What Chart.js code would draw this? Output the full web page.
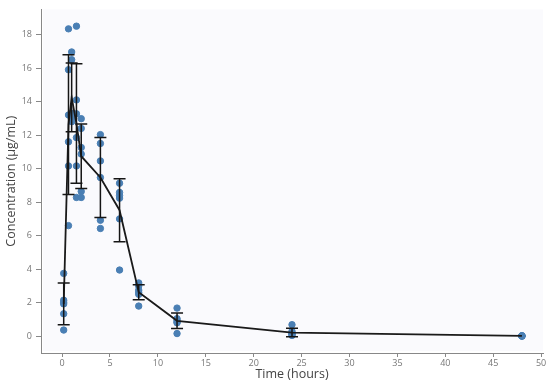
<!DOCTYPE html>
<html>
<head>
<meta charset="utf-8">
<script src="https://cdn.jsdelivr.net/npm/chart.js@4"></script>
<style>
  html, body { margin: 0; padding: 0; background: #fff; }
</style>
</head>
<body>
<canvas id="myChart" width="550" height="386"></canvas>
<script>
// sampling times (hours)
const sampleTimes = [0.17, 0.67, 1, 1.5, 2, 4, 6, 8, 12, 24, 48]

// individual concentrations (µg/mL) per sampling time
const conc_0h17 = [3.75, 2.15, 2.03, 1.93, 1.34, 0.37]
const conc_0h67 = [18.34, 15.9, 13.2, 11.6, 10.16, 6.6]
const conc_1h = [16.96, 16.5, 13.3, 13.0, 12.9, 12.8]
const conc_1h5 = [18.5, 14.1, 13.27, 11.85, 10.16, 8.28]
const conc_2h = [12.98, 12.4, 11.26, 10.87, 8.64, 8.28]
const conc_4h = [12.03, 11.5, 10.46, 9.47, 6.92, 6.43]
const conc_6h = [9.13, 8.58, 8.4, 8.24, 7.0, 3.95]
const conc_8h = [3.18, 3.0, 2.75, 2.62, 2.5, 1.8]
const conc_12h = [1.68, 1.05, 0.95, 0.85, 0.8, 0.16]
const conc_24h = [0.69, 0.3, 0.2, 0.15, 0.1, 0.05]
const conc_48h = [0.03, 0.02, 0.02, 0.01, 0.01, 0.01]
const allConc = [conc_0h17, conc_0h67, conc_1h, conc_1h5, conc_2h, conc_4h, conc_6h, conc_8h, conc_12h, conc_24h, conc_48h]

// mean and SD per sampling time
const meanConc = [1.93, 12.63, 14.25, 12.69, 10.74, 9.47, 7.52, 2.62, 0.92, 0.22, 0.02]
const sdConc = [1.25, 4.17, 2.05, 3.56, 1.93, 2.38, 1.88, 0.45, 0.46, 0.25, 0]

const xTicks = [0, 5, 10, 15, 20, 25, 30, 35, 40, 45, 50]
const yTicks = [0, 2, 4, 6, 8, 10, 12, 14, 16, 18]

const scatterPts = []
allConc.forEach((list, i) => {
  list.forEach(v => scatterPts.push({ x: sampleTimes[i], y: v }))
})
const meanPts = sampleTimes.map((t, i) => ({ x: t, y: meanConc[i] }))

const plotBg = {
  id: 'plotBg',
  beforeDraw(chart) {
    const { ctx, chartArea: a } = chart
    ctx.save()
    ctx.fillStyle = '#fafafd'
    ctx.fillRect(a.left + 2, a.top, a.right - a.left - 2, a.bottom - a.top - 2)
    ctx.restore()
  }
}

const errorBars = {
  id: 'errorBars',
  afterDatasetsDraw(chart) {
    const ctx = chart.ctx
    const xs = chart.scales.x
    const ys = chart.scales.y
    ctx.save()
    ctx.strokeStyle = '#151515'
    ctx.lineWidth = 1.5
    sampleTimes.forEach((t, i) => {
      if (!sdConc[i]) return
      const px = xs.getPixelForValue(t)
      const top = ys.getPixelForValue(meanConc[i] + sdConc[i])
      const bot = ys.getPixelForValue(meanConc[i] - sdConc[i])
      ctx.beginPath()
      ctx.moveTo(px, top); ctx.lineTo(px, bot)
      ctx.moveTo(px - 6, top); ctx.lineTo(px + 6, top)
      ctx.moveTo(px - 6, bot); ctx.lineTo(px + 6, bot)
      ctx.stroke()
    })
    ctx.restore()
  }
}

const tickFont = { family: 'Open Sans', size: 9 }
const titleFont = { family: 'Open Sans', size: 12.5 }

new Chart(document.getElementById('myChart'), {
  type: 'scatter',
  data: {
    datasets: [
      {
        // mean profile
        type: 'line',
        data: meanPts,
        borderColor: '#1a1a1a',
        borderWidth: 1.8,
        pointRadius: 0,
        fill: false,
        tension: 0,
        order: 0
      },
      {
        data: scatterPts,
        backgroundColor: '#4a7fb4',
        borderColor: '#4a7fb4',
        pointRadius: 3.2,
        order: 1
      }
    ]
  },
  options: {
    responsive: false,
    animation: false,
    layout: { padding: { top: 6, right: 7, left: 0, bottom: 0 } },
    plugins: {
      legend: { display: false },
      tooltip: { enabled: false }
    },
    scales: {
      x: {
        type: 'linear',
        min: -2.2,
        max: 50.2,
        afterBuildTicks: s => { s.ticks = xTicks.map(v => ({ value: v })) },
        afterFit: s => { s.height = 33 },
        ticks: { color: '#777', font: tickFont, padding: 1, maxRotation: 0 },
        grid: { drawOnChartArea: false, tickLength: 4, color: '#888' },
        border: { color: '#888' },
        title: { display: true, text: 'Time (hours)', color: '#444', font: titleFont, padding: { top: 0, bottom: 4 } }
      },
      y: {
        min: -1,
        max: 19.5,
        afterBuildTicks: s => { s.ticks = yTicks.map(v => ({ value: v })) },
        afterFit: s => { s.width = 41 },
        ticks: { color: '#777', font: tickFont, padding: 4 },
        grid: { drawOnChartArea: false, tickLength: 5, color: '#888' },
        border: { color: '#888' },
        title: { display: true, text: 'Concentration (µg/mL)', color: '#444', font: titleFont, padding: 4 }
      }
    }
  },
  plugins: [plotBg, errorBars]
})
</script>
</body>
</html>
